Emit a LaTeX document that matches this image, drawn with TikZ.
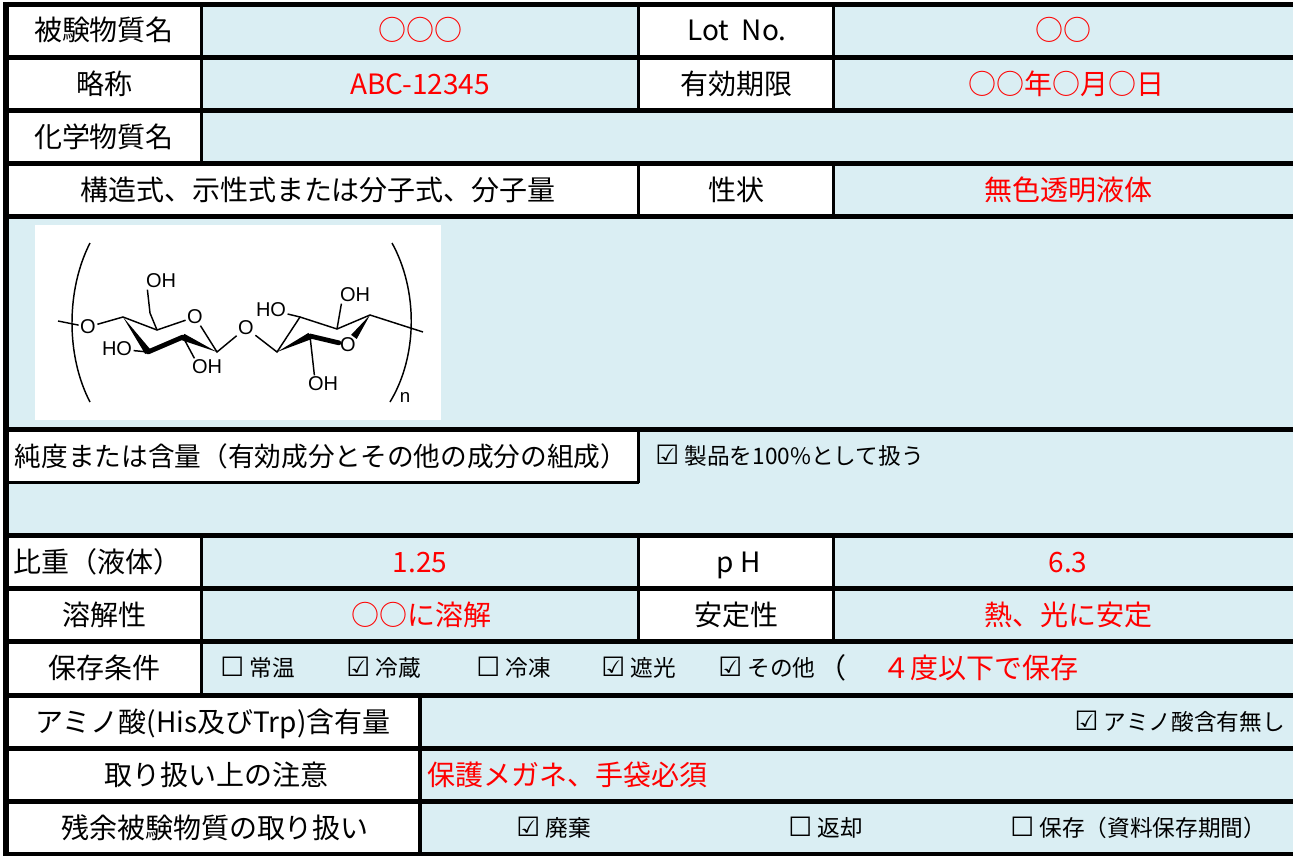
\documentclass[tikz,border=0pt]{standalone}
\usepackage{fontspec}
\usetikzlibrary{calc}
\newfontfamily\jp{Noto Sans CJK JP}
\newfontfamily\chem{Liberation Sans}
\newfontfamily\boxfont{DejaVu Sans}
\definecolor{cellblue}{HTML}{DAEEF3}
\newcommand{\chkon}{{\boxfont\fontsize{20}{20}\selectfont ☑}\hspace{4pt}}
\newcommand{\chkoff}{{\boxfont\fontsize{20}{20}\selectfont ☐}\hspace{4pt}}

\begin{document}
\begin{tikzpicture}[x=0.75pt, y=-0.75pt,
  lbl/.style={font=\jp\fontsize{21}{21}\selectfont, inner sep=0, text height=16pt, text depth=1pt},
  val/.style={lbl, text=red},
  chk/.style={font=\jp\fontsize{17}{17}\selectfont, inner sep=0, anchor=west, text height=13pt, text depth=1pt},
  atom/.style={font=\chem\fontsize{15}{15}\selectfont, inner sep=1pt},
  bnd/.style={line width=1.1pt},
  hrule/.style={line width=3.75pt},
  vrule/.style={line width=2.4pt}]
\useasboundingbox (0,0) rectangle (1293,856);
\fill[white] (0,0) rectangle (1293,856);
\fill[cellblue] (6,4.5) rectangle (1293,854);
% label cells
\foreach \xa/\ya/\xb/\yb in {6/4.5/201.5/110.5, 638.5/4.5/833.5/110.5,
                             6/110.5/201.5/163.5, 6/163.5/833.5/216.5,
                             6/429/638.5/482.5, 6/535.5/201.5/695,
                             638.5/535.5/833.5/641.5, 6/695/420/854}
    \fill[white] (\xa,\ya) rectangle (\xb,\yb);
\fill[white] (35,225) rectangle (441,420);
% grid
\foreach \y in {4.5,57.5,110.5,163.5,216.5,429,535.5,588.5,641.5,695,748.5,801,854}
    \draw[hrule] (3,\y) -- (1293,\y);
\draw[vrule] (6,482.5) -- (638.5,482.5);
\draw[line width=4.5pt] (6,2) -- (6,856);
\foreach \x/\ya/\yb in {201.5/4.5/163.5, 638.5/4.5/110.5, 833.5/4.5/110.5,
                        638.5/163.5/216.5, 833.5/163.5/216.5, 638.5/429/482.5,
                        201.5/535.5/695, 638.5/535.5/641.5, 833.5/535.5/641.5,
                        420/695/854}
    \draw[vrule] (\x,\ya) -- (\x,\yb);
% headings
\foreach \n/\x/\y/\t in {lbName/104/31/被験物質名, lbLot/737/31/Lot\ \ No.,
                         lbAbbr/104/84/略称, lbExpiry/736/84/有効期限,
                         lbChem/104/137/化学物質名,
                         lbFormula/318/190/構造式、示性式または分子式、分子量,
                         lbState/736/190/性状, lbPH/739/562/p H,
                         lbSolub/104/615/溶解性, lbStab/736/615/安定性,
                         lbStore/104/668/保存条件,
                         lbAmino/213/722/アミノ酸(His及びTrp)含有量,
                         lbCaution/216/775/取り扱い上の注意,
                         lbRest/215/828/残余被験物質の取り扱い}
    \node[lbl] (\n) at (\x,\y) {\t};
\node[lbl, font=\jp\fontsize{20}{20}\selectfont] (lbPurity) at (321,456)
    {純度または含量（有効成分とその他の成分の組成）};
\node[lbl, anchor=west] (lbDensity) at (13,562) {比重（液体）};
% entries
\foreach \n/\x/\y/\t in {vaName/420/31/○○○, vaLot/1063/31/○○,
                         vaAbbr/420/84/ABC-12345, vaExpiry/1066/84/○○年○月○日,
                         vaState/1068/190/無色透明液体,
                         vaDensity/420/562/1.25, vaPH/1068/562/6.3,
                         vaSolub/421/615/○○に溶解, vaStab/1068/615/熱、光に安定}
    \node[val] (\n) at (\x,\y) {\t};
\node[val, anchor=west] (vaStore) at (882,668) {４度以下で保存};
\node[val, anchor=west] (vaCaution) at (427,775) {保護メガネ、手袋必須};
% check boxes
\node[chk] (ckPurity) at (655,456) {\chkon 製品を100\%として扱う};
\foreach \n/\x/\y/\t in {ckRoom/220/668/\chkoff 常温, ckCold/346/668/\chkon 冷蔵,
                         ckFrozen/476/668/\chkoff 冷凍, ckDark/601/668/\chkon 遮光,
                         ckOther/718/668/\chkon その他,
                         ckWaste/516/828/\chkon 廃棄, ckReturn/788/828/\chkoff 返却,
                         ckKeep/1010/828/\chkoff 保存（資料保存期間）}
    \node[chk] (\n) at (\x,\y) {\t};
\node[lbl, anchor=west] (ckParen) at (818,668) {（};
\node[chk, anchor=east] (ckAmino) at (1285,722) {\chkon アミノ酸含有無し};
% structure
\node[atom] (o1) at (88,327) {O};
\node[atom] (o5) at (195,317) {O};
\node[atom] (og) at (246,328) {O};
\node[atom] (o5b) at (348,345) {O};
\node[atom] (oh6) at (161,281) {OH};
\node[atom] (ho3) at (117,349) {HO};
\node[atom] (oh2) at (207,367) {OH};
\node[atom] (ho3b) at (271,310) {HO};
\node[atom] (oh2b) at (355,295) {OH};
\node[atom] (oh6b) at (323,384) {OH};
\node[font=\chem\fontsize{14}{14}\selectfont, inner sep=0] (nsub) at (405,397) {n};
\coordinate (c1) at (217,352);
\coordinate (c2) at (183,337);
\coordinate (c3) at (148,352);
\coordinate (c4) at (123,317);
\coordinate (c5) at (157,330);
\coordinate (c6) at (150,313);
\coordinate (d1) at (370,315);
\coordinate (d2) at (337,329);
\coordinate (d3) at (300,317);
\coordinate (d4) at (277,352);
\coordinate (d5) at (310,336);
\coordinate (endL) at (58,321);
\coordinate (endR) at (423,332);
\draw[bnd] (endL) -- (o1) -- (c4) -- (c5) -- (o5) -- (c1) -- (og) -- (d4)
    -- (d3) -- (d2) -- (d1) -- (endR);
\draw[bnd] (c5) -- (c6) -- ($(oh6.south west)+(3,0)$);
\draw[bnd] (c3) -- (ho3);
\draw[bnd] (c2) -- ($(oh2.north west)+(4,0)$);
\draw[bnd] (d3) -- (ho3b);
\draw[bnd] (d2) -- ($(oh2b.south west)+(3,0)$);
\draw[bnd] (d5) -- ($(oh6b.north west)+(8,0)$);
\fill (c4) -- ($(c3)!2.6pt!90:(c4)$) -- ($(c3)!2.6pt!-90:(c4)$) -- cycle;
\draw[line width=3.6pt, line cap=round] (c3) -- (c2);
\fill (c1) -- ($(c2)!2.6pt!90:(c1)$) -- ($(c2)!2.6pt!-90:(c1)$) -- cycle;
\fill (d4) -- ($(d5)!2.6pt!90:(d4)$) -- ($(d5)!2.6pt!-90:(d4)$) -- cycle;
\draw[line width=3.6pt, line cap=round] (d5) -- ($(o5b)!7pt!(d5)$);
\coordinate (o5top) at ($(o5b)!7.5pt!(d1)$);
\fill (d1) -- ($(o5top)!2.6pt!90:(d1)$) -- ($(o5top)!2.6pt!-90:(d1)$) -- cycle;
\draw[bnd] (90,243) .. controls (66,290) and (66,356) .. (90,402);
\draw[bnd] (392,243) .. controls (418,290) and (418,356) .. (390,402);
\end{tikzpicture}
\end{document}
